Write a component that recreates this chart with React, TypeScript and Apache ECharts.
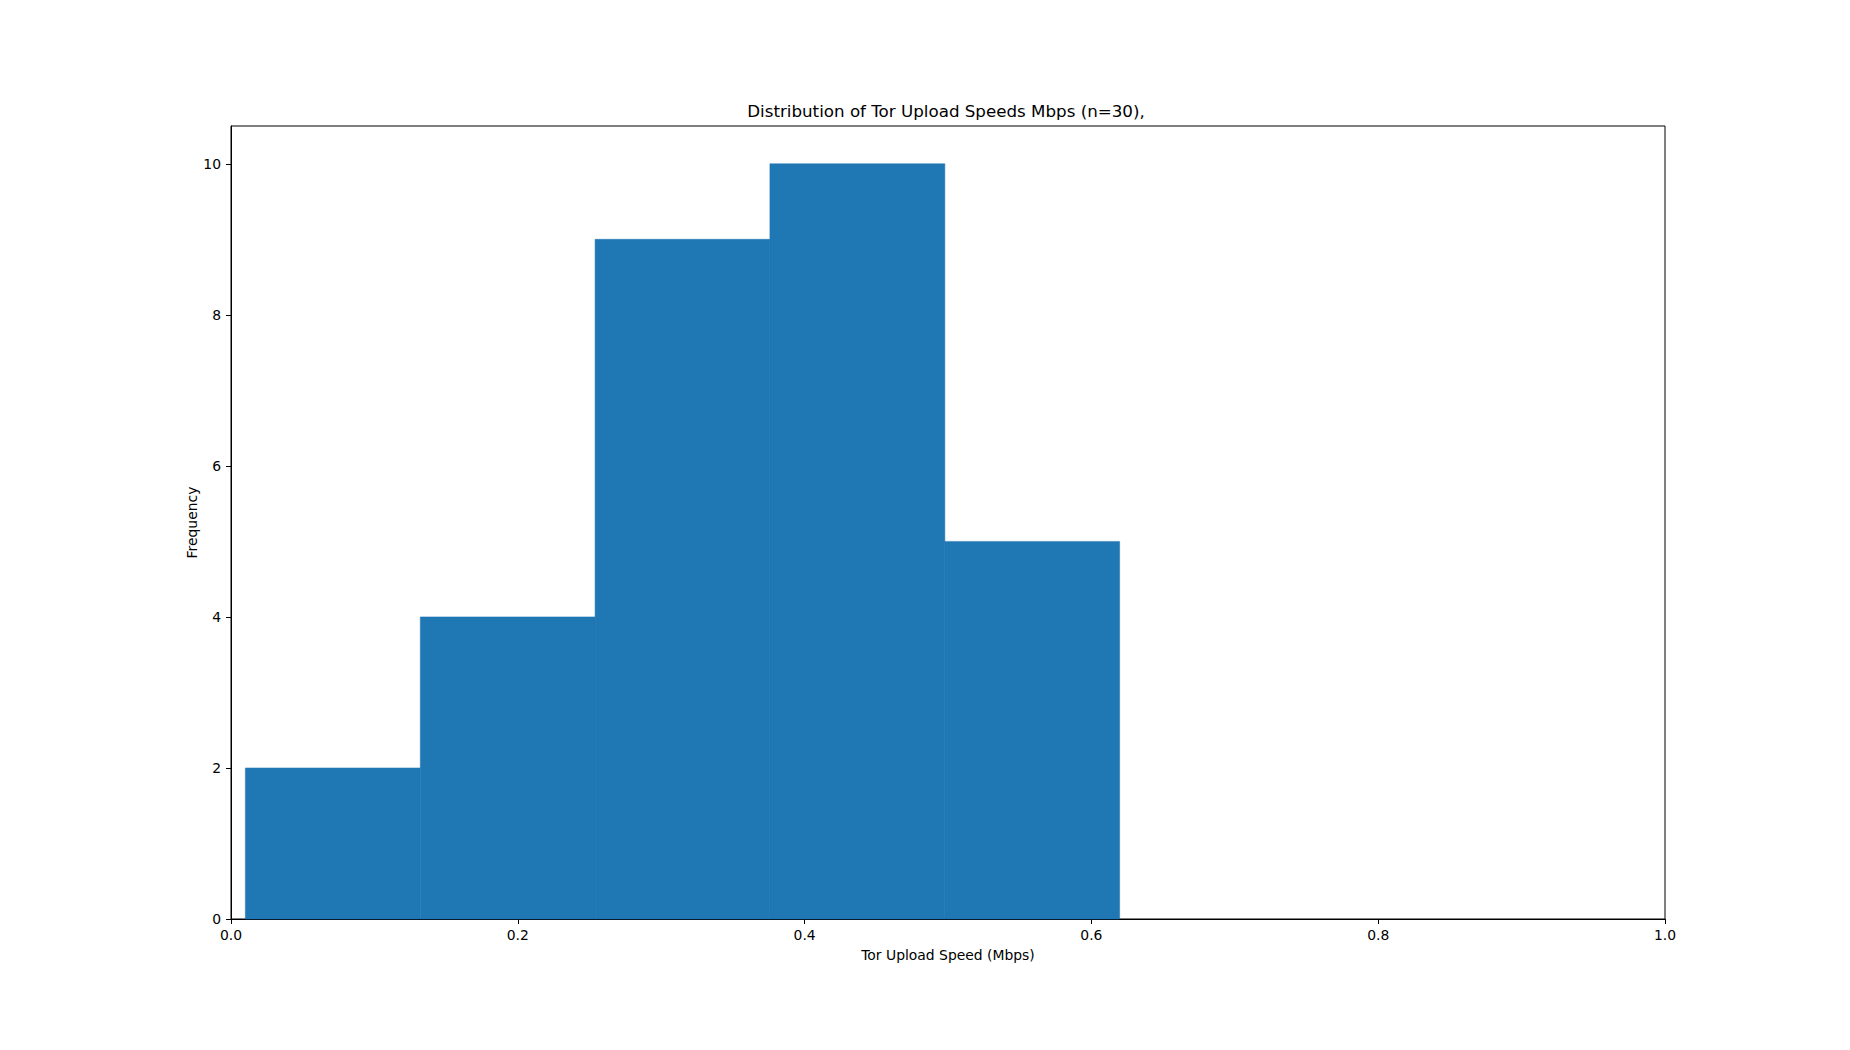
import React, { useEffect, useRef } from "react";
import * as echarts from "echarts";

const binEdges = [0.01, 0.132, 0.2539, 0.3758, 0.4978, 0.6197];
const counts = [2, 4, 9, 10, 5];
const xTicks = [0, 0.2, 0.4, 0.6, 0.8, 1.0];
const yTicks = [0, 2, 4, 6, 8, 10];
const titleText = "Distribution of Tor Upload Speeds Mbps (n=30),";
const xName = "Tor Upload Speed (Mbps)";
const yName = "Frequency";

const FONT = "DejaVu Sans";

export default function App() {
  const ref = useRef<HTMLDivElement>(null);
  useEffect(() => {
    if (!ref.current) return;
    const chart = echarts.init(ref.current, null, { renderer: "svg" });
    const data = counts.map((c, i) => [binEdges[i], binEdges[i + 1], c]);
    chart.setOption({
      animation: false,
      backgroundColor: "#ffffff",
      title: {
        text: titleText,
        left: 941,
        top: 97,
        textAlign: "center",
        textStyle: { fontFamily: FONT, fontSize: 16.7, fontWeight: "normal", color: "#000" },
      },
      grid: {
        left: 231,
        top: 126,
        width: 1434,
        height: 793,
        show: true,
        borderColor: "#000",
        borderWidth: 1,
        backgroundColor: "transparent",
      },
      xAxis: {
        type: "value",
        min: 0,
        max: 1,
        interval: 0.2,
        name: xName,
        nameLocation: "middle",
        nameGap: 29,
        nameMoveOverlap: false,
        nameTextStyle: { fontFamily: FONT, fontSize: 13.9, color: "#000" },
        axisLine: { show: true, lineStyle: { color: "#000", width: 1 } },
        axisTick: { show: true, inside: false, length: 5, lineStyle: { color: "#000" }, customValues: xTicks },
        axisLabel: {
          fontFamily: FONT,
          fontSize: 13.9,
          color: "#000",
          margin: 9,
          customValues: xTicks,
          formatter: (v: number) => v.toFixed(1),
        },
        splitLine: { show: false },
      },
      yAxis: {
        type: "value",
        min: 0,
        max: 10.5,
        interval: 2,
        name: yName,
        nameLocation: "middle",
        nameGap: 32,
        nameMoveOverlap: false,
        nameRotate: 90,
        nameTextStyle: { fontFamily: FONT, fontSize: 13.9, color: "#000" },
        axisLine: { show: true, lineStyle: { color: "#000", width: 1 } },
        axisTick: { show: true, inside: false, length: 5, lineStyle: { color: "#000" }, customValues: yTicks },
        axisLabel: {
          fontFamily: FONT,
          fontSize: 13.9,
          color: "#000",
          margin: 10,
          customValues: yTicks,
          formatter: (v: number) => String(v),
        },
        splitLine: { show: false },
      },
      series: [
        {
          type: "custom",
          data,
          encode: { x: [0, 1], y: 2 },
          renderItem: (params: any, api: any) => {
            const x0 = api.value(0);
            const x1 = api.value(1);
            const c = api.value(2);
            const p0 = api.coord([x0, 0]);
            const p1 = api.coord([x1, c]);
            return {
              type: "rect",
              shape: { x: p0[0], y: p1[1], width: p1[0] - p0[0], height: p0[1] - p1[1] },
              style: { fill: "#1f77b4", stroke: "#1f77b4", lineWidth: 0.5 },
            };
          },
          z: 1,
        },
      ],
    });
    return () => chart.dispose();
  }, []);
  return (
    <div
      ref={ref}
      style={{ position: "fixed", left: 0, top: 0, width: 1850, height: 1050, background: "#fff" }}
    />
  );
}
